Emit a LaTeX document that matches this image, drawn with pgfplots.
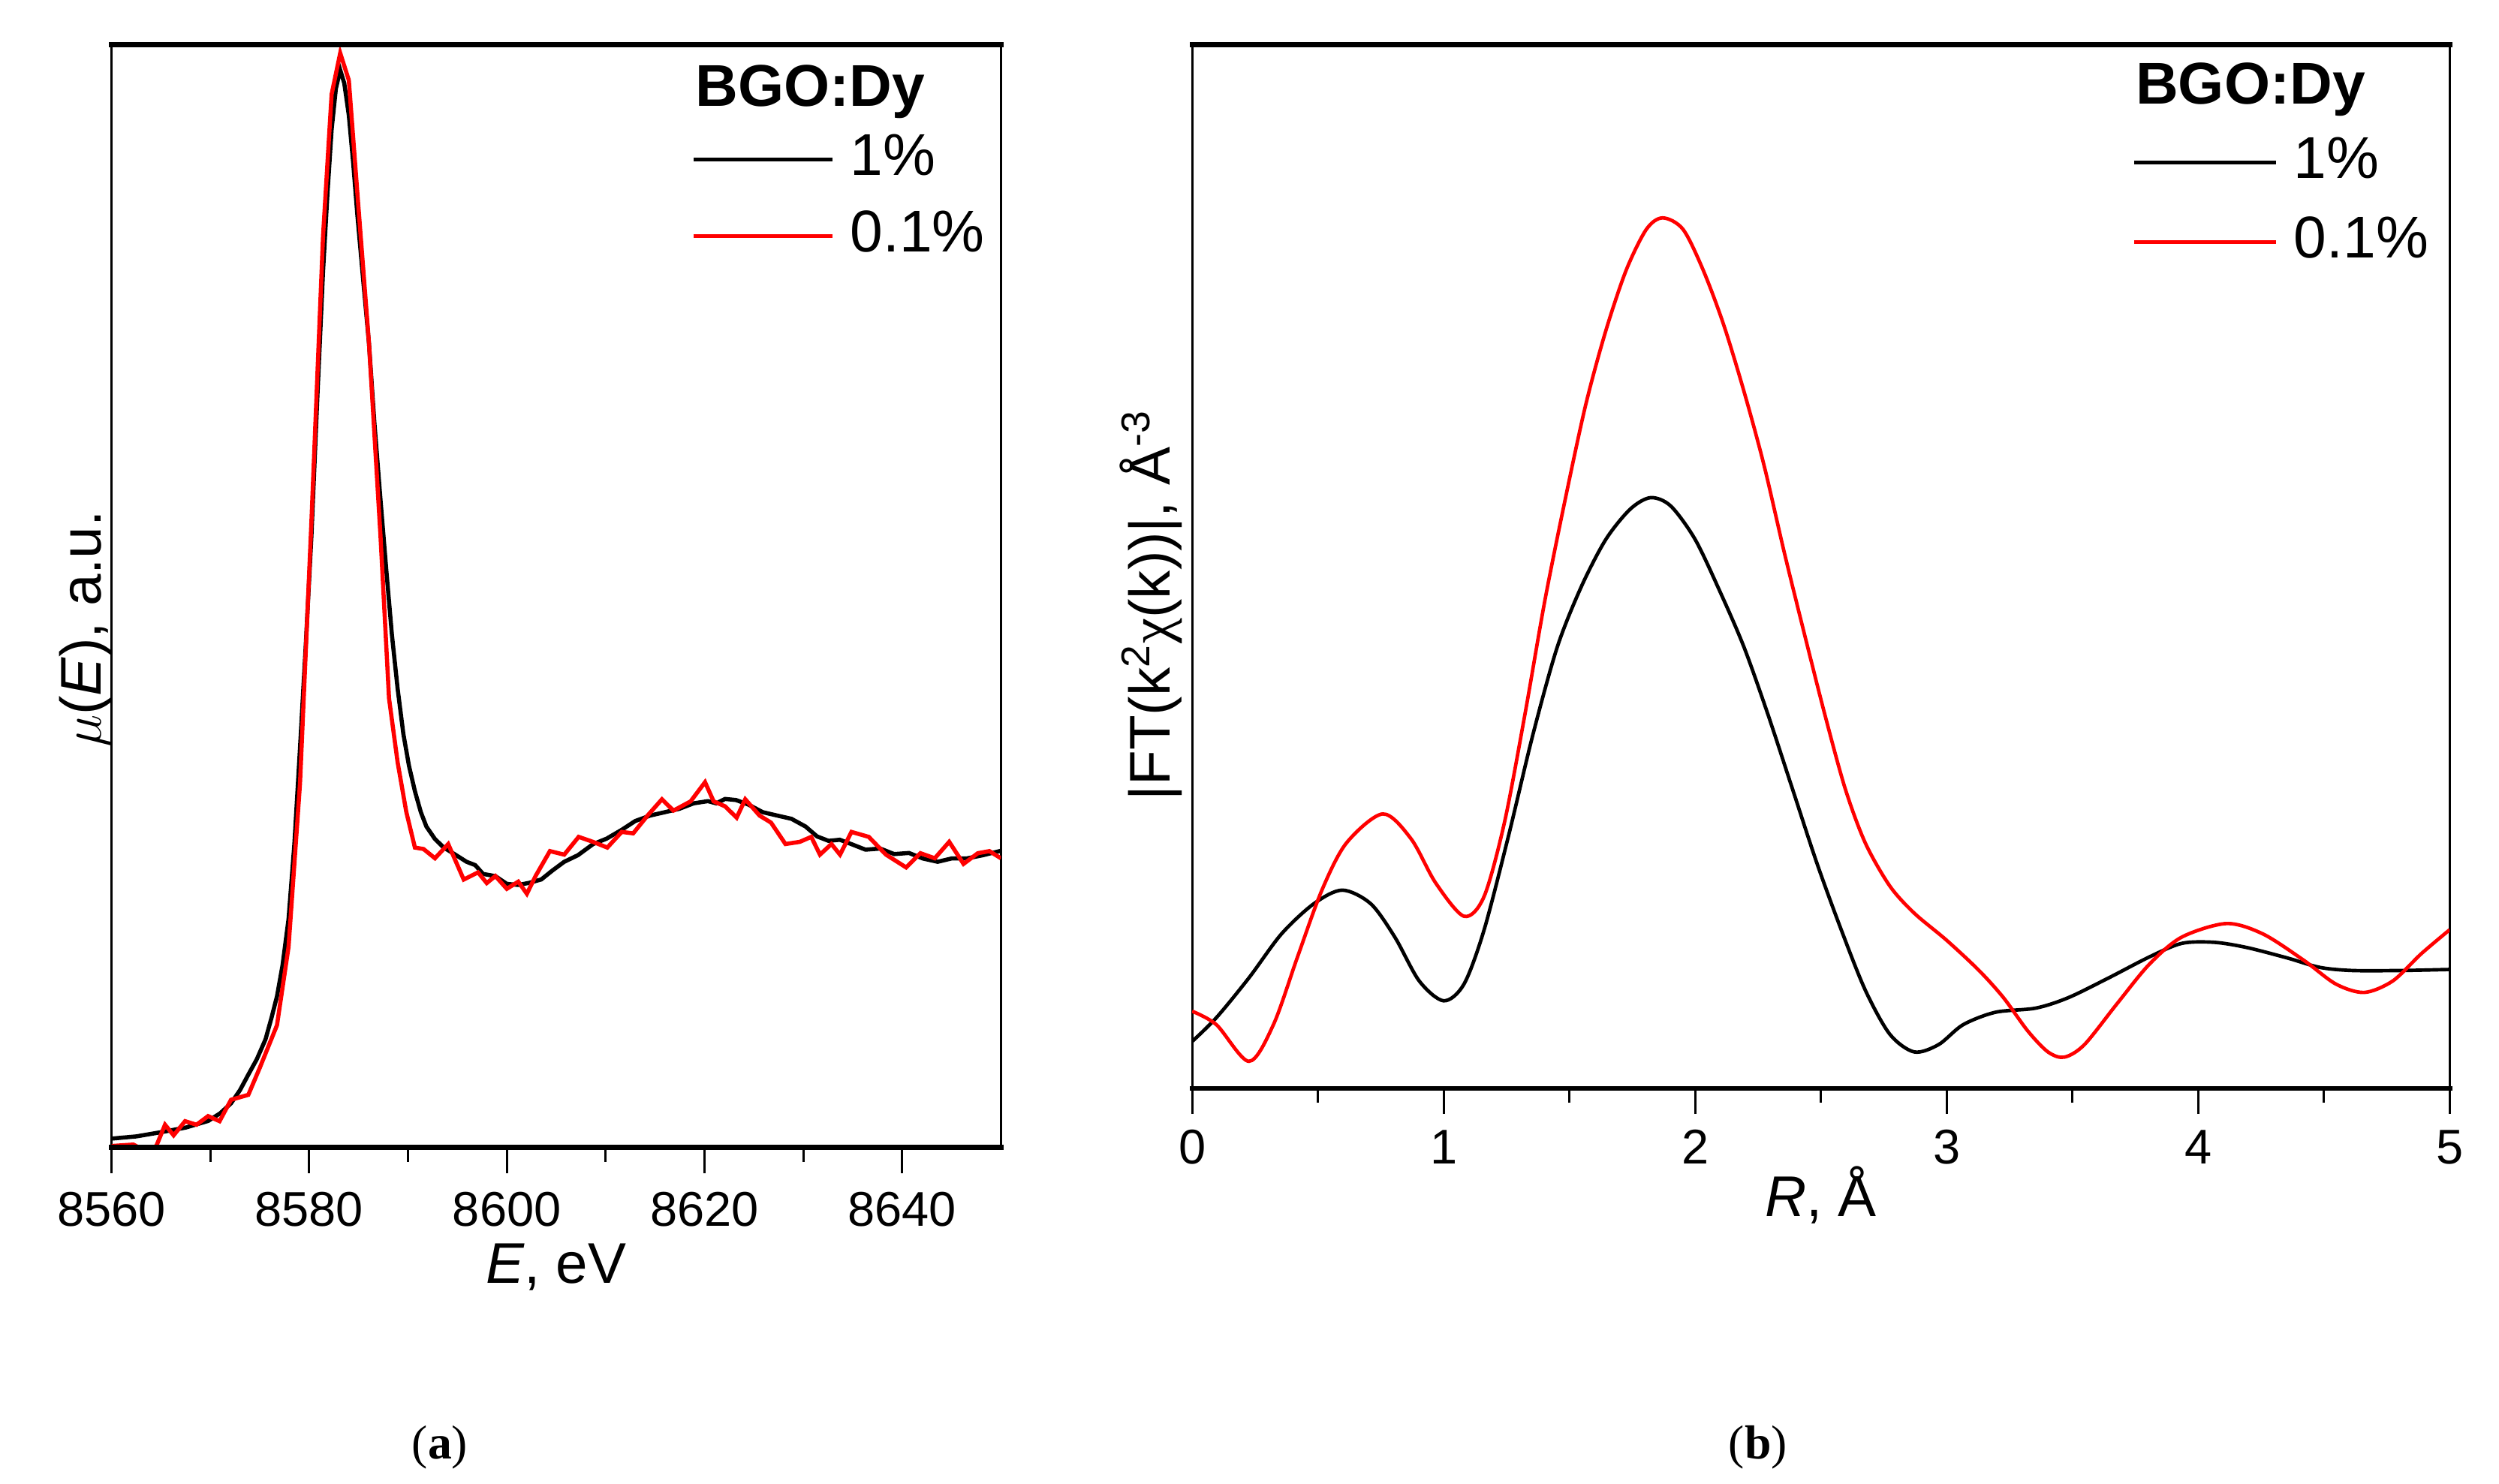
\documentclass[border=0pt]{standalone}
\usepackage{fontspec}
\setmainfont{Liberation Sans}
\newfontfamily\seriffont{Liberation Serif}
\usepackage{pgfplots}
\pgfplotsset{compat=1.18}
\pgfplotsset{
  panel/.style={
    scale only axis,
    axis lines=box,
    axis line style={line width=0.7pt},
    ytick=\empty,
    xtick pos=bottom,
    tick align=outside,
    major tick length=8pt,
    minor tick length=4.5pt,
    every tick/.style={black, line width=0.7pt},
    minor x tick num=1,
    tick label style={font=\fontsize{15.3}{15.3}\selectfont},
    /pgf/number format/assume math mode=true,
    /pgf/number format/1000 sep={},
    ymin=0, ymax=100,
    legend cell align=left,
    legend style={draw=none, fill=none, inner sep=0pt, outer sep=0pt,
      font=\fontsize{18.5}{18.5}\selectfont,
      nodes={inner sep=0pt, text height=13pt, text depth=3pt},
      /tikz/every odd column/.append style={column sep=5pt}},
  }
}
\begin{document}
\begin{tikzpicture}
\path[use as bounding box] (-35pt,-105.5pt) rectangle (749pt,360pt);

% ---------------- (a) XANES ----------------
\begin{axis}[panel, name=pa,
  at={(0pt,0pt)}, anchor=south west,
  width=279pt, height=346pt,
  xmin=8560, xmax=8650,
  xtick={8560,8580,8600,8620,8640},
  xticklabel style={yshift=-2.5pt},
  xlabel={\fontsize{18}{18}\selectfont\textit{E}, eV},
  every axis x label/.style={at={(rel axis cs:0.5,0)}, yshift=-37.5pt, anchor=center},
  ylabel={\fontsize{18}{18}\selectfont$\mu$(\textit{E}), a.u.},
  every axis y label/.style={at={(rel axis cs:0,0.47)}, xshift=-8pt, anchor=center, rotate=90},
  legend image code/.code={\draw[#1] (0pt,0pt) -- (43.5pt,0pt);},
  legend style={at={(rel axis cs:0.652,0.919)}, anchor=north west, row sep=8pt},
]
\addplot[black, line width=1.3pt] table {
8560.00 0.8
8562.5 1.0
8565.12 1.4
8567.5 1.8
8569.77 2.4
8571.0 3.1
8572.09 4.0
8573.0 5.2
8573.84 6.6
8574.7 8.0
8575.58 9.8
8576.2 11.8
8576.74 13.7
8577.3 16.5
8577.91 20.7
8578.5 27.5
8579.07 36.2
8579.65 45.5
8580.23 55.5
8580.8 67.5
8581.40 79.4
8581.85 86.5
8582.27 92.3
8582.7 96.0
8583.14 97.7
8583.55 96.5
8584.01 93.6
8584.45 89.3
8584.88 84.5
8585.45 78.8
8586.05 72.9
8586.6 65.7
8587.21 58.8
8587.8 52.4
8588.37 46.5
8588.95 41.6
8589.53 37.5
8590.1 34.6
8590.70 32.3
8591.3 30.4
8591.86 29.1
8592.7 28.0
8593.60 27.2
8594.7 26.6
8595.93 25.9
8596.8 25.6
8597.6 24.8
8598.84 24.6
8600.0 23.9
8601.16 23.8
8602.3 24.0
8603.49 24.3
8604.6 25.1
8605.81 25.9
8607.2 26.5
8608.72 27.5
8610.1 28.0
8611.63 28.8
8613.0 29.6
8614.53 30.1
8616.0 30.4
8617.44 30.7
8618.9 31.2
8620.35 31.4
8621.2 31.2
8622.09 31.6
8623.2 31.5
8624.42 31.1
8625.9 30.4
8627.33 30.1
8628.8 29.8
8630.23 29.1
8631.4 28.2
8632.56 27.8
8633.7 27.9
8634.88 27.5
8636.3 27.0
8637.79 27.1
8639.2 26.6
8640.70 26.7
8642.1 26.2
8643.60 25.9
8645.0 26.2
8646.51 26.2
8648.2 26.5
8650.0 26.9
};
\addlegendentry{1\%}
\addplot[red, line width=1.3pt] table {
8560.00 0.13
8562.21 0.26
8563.37 -0.3
8564.53 0.13
8565.41 2.06
8566.28 1.10
8567.44 2.38
8568.60 2.06
8569.77 2.84
8570.93 2.38
8572.09 4.32
8573.84 4.77
8575.00 7.22
8576.74 11.08
8577.91 18.17
8579.07 32.99
8580.23 56.83
8581.40 82.60
8582.27 95.49
8583.14 99.23
8584.01 96.78
8584.88 86.47
8586.05 72.94
8587.21 55.54
8588.08 40.72
8588.95 34.92
8589.83 30.41
8590.70 27.19
8591.57 27.06
8592.73 26.22
8594.07 27.51
8595.64 24.29
8597.09 24.94
8597.97 23.97
8598.84 24.61
8600.00 23.45
8601.16 24.10
8602.03 23.00
8602.91 24.61
8604.36 26.87
8605.81 26.55
8607.27 28.16
8608.72 27.71
8610.17 27.19
8611.63 28.61
8612.79 28.48
8614.24 30.09
8615.70 31.57
8616.86 30.54
8618.60 31.38
8620.06 33.12
8620.93 31.38
8622.09 30.93
8623.26 29.90
8624.13 31.57
8625.58 30.09
8626.74 29.45
8628.20 27.51
8629.65 27.71
8630.81 28.16
8631.69 26.55
8632.85 27.51
8633.72 26.55
8634.88 28.61
8636.63 28.16
8638.37 26.55
8640.41 25.39
8641.86 26.68
8643.31 26.22
8644.77 27.71
8646.22 25.71
8647.67 26.68
8648.84 26.87
8650.00 26.22
};
\addlegendentry{0.1\%}
\node[anchor=base west, inner sep=0pt, font=\fontsize{18.5}{18.5}\selectfont\bfseries] at (rel axis cs:0.656,0.944) {BGO:Dy};
\end{axis}
\draw[line width=1.6pt, line cap=rect] (pa.south west) -- (pa.south east);
\draw[line width=1.6pt, line cap=rect] (pa.north west) -- (pa.north east);

% ---------------- (b) FT ----------------
\begin{axis}[panel, name=pb,
  at={(339pt,18.5pt)}, anchor=south west,
  width=394.5pt, height=327.5pt,
  xmin=0, xmax=5,
  xtick={0,1,2,3,4,5},
  xticklabel style={yshift=-1.5pt},
  xlabel={\fontsize{18}{18}\selectfont\textit{R}, Å},
  every axis x label/.style={at={(rel axis cs:0.5,0)}, yshift=-33.5pt, anchor=center},
  ylabel={\fontsize{18}{18}\selectfont|FT(k\textsuperscript{2}{\seriffont χ}(k))|, Å\textsuperscript{-3}},
  every axis y label/.style={at={(rel axis cs:0,0.463)}, xshift=-13pt, anchor=center, rotate=90},
  legend image code/.code={\draw[#1] (0pt,0pt) -- (44.5pt,0pt);},
  legend style={at={(rel axis cs:0.748,0.9115)}, anchor=north west, row sep=9pt},
]
\addplot[black, line width=1.1pt, smooth] table {
0 4.5
0.097 6.8
0.226 10.6
0.355 14.8
0.484 17.7
0.597 19.0
0.71 17.7
0.806 14.5
0.903 10.3
1.0 8.4
1.081 10.0
1.161 15.2
1.258 24.2
1.355 33.9
1.452 42.3
1.548 48.1
1.645 52.6
1.742 55.5
1.823 56.6
1.903 55.8
2.0 52.6
2.097 47.7
2.194 42.3
2.29 35.8
2.387 28.7
2.484 21.6
2.581 15.2
2.677 9.4
2.774 5.2
2.871 3.5
2.968 4.2
3.065 6.1
3.194 7.3
3.355 7.7
3.484 8.7
3.645 10.6
3.806 12.6
3.935 13.9
4.065 14.0
4.194 13.5
4.355 12.5
4.484 11.6
4.613 11.3
4.806 11.3
5.0 11.4
};
\addlegendentry{1\%}
\addplot[red, line width=1.1pt, smooth] table {
0 7.4
0.097 6.1
0.226 2.6
0.323 6.1
0.419 12.6
0.516 19.0
0.613 23.5
0.758 26.3
0.871 23.9
0.968 19.7
1.081 16.5
1.161 18.4
1.242 25.5
1.323 35.8
1.403 46.8
1.484 56.5
1.565 65.5
1.645 72.6
1.726 78.4
1.806 82.3
1.871 83.4
1.952 82.3
2.032 78.4
2.113 73.2
2.194 66.8
2.274 59.7
2.355 51.3
2.435 43.5
2.516 35.8
2.597 28.7
2.677 23.5
2.774 19.4
2.871 16.8
3.0 14.2
3.129 11.3
3.226 8.7
3.323 5.5
3.403 3.5
3.468 3.0
3.548 4.2
3.677 8.1
3.806 11.9
3.935 14.5
4.113 15.8
4.258 14.8
4.419 12.3
4.548 10.0
4.661 9.2
4.774 10.3
4.887 12.9
5.0 15.2
};
\addlegendentry{0.1\%}
\node[anchor=base west, inner sep=0pt, font=\fontsize{18.5}{18.5}\selectfont\bfseries] at (rel axis cs:0.750,0.9435) {BGO:Dy};
\end{axis}
\draw[line width=1.6pt, line cap=rect] (pb.south west) -- (pb.south east);
\draw[line width=1.6pt, line cap=rect] (pb.north west) -- (pb.north east);

\node[font=\seriffont\fontsize{15}{15}\selectfont] at (103pt,-94pt) {(\textbf{a})};
\node[font=\seriffont\fontsize{15}{15}\selectfont] at (516.5pt,-94pt) {(\textbf{b})};
\end{tikzpicture}
\end{document}
